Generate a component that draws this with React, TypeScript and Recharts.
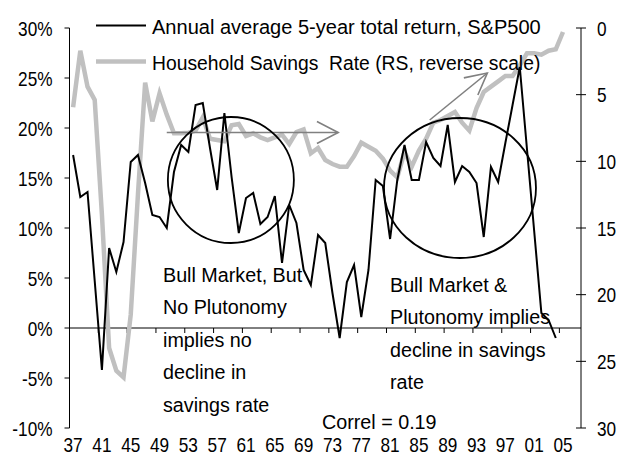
import { LineChart, Line, XAxis, YAxis, ReferenceLine, ReferenceDot } from 'recharts';

// 年次データ (1937-2005)
const years = [
  1937, 1938, 1939, 1940, 1941, 1942, 1943, 1944, 1945, 1946,
  1947, 1948, 1949, 1950, 1951, 1952, 1953, 1954, 1955, 1956,
  1957, 1958, 1959, 1960, 1961, 1962, 1963, 1964, 1965, 1966,
  1967, 1968, 1969, 1970, 1971, 1972, 1973, 1974, 1975, 1976,
  1977, 1978, 1979, 1980, 1981, 1982, 1983, 1984, 1985, 1986,
  1987, 1988, 1989, 1990, 1991, 1992, 1993, 1994, 1995, 1996,
  1997, 1998, 1999, 2000, 2001, 2002, 2003, 2004, 2005,
];

// Annual average 5-year total return, S&P500 (%)
const sp500Return = [
  17.3, 13.1, 13.6, 4.7, -4.2, 8.0, 5.6, 8.6, 16.6, 17.3,
  14.5, 11.3, 11.1, 10.0, 15.6, 18.3, 17.6, 22.3, 22.5, 18.0,
  13.8, 21.5, 15.1, 9.5, 13.0, 13.5, 10.4, 11.1, 13.2, 6.5,
  12.3, 10.5, 5.8, 4.3, 9.3, 8.5, 3.5, -1.0, 4.6, 6.3,
  1.1, 5.8, 14.8, 14.2, 8.9, 14.8, 18.3, 14.8, 14.8, 18.6,
  17.0, 16.2, 20.3, 14.6, 16.2, 15.6, 14.5, 9.1, 16.1, 14.6,
  18.5, 22.3, 26.1, 17.9, 9.7, 1.5, 0.8, -1.0, null,
];

// Household Savings Rate (右軸, 反転)
const savingsRate = [
  5.95, 1.7, 4.4, 5.4, 14, 24.0, 25.7, 26.2, 21.5, 12.5,
  4.1, 7.0, 4.9, 6.5, 7.9, 7.9, 7.85, 7.7, 6.7, 8.3,
  8.4, 8.5, 7.3, 7.2, 8.1, 7.9, 8.2, 8.4, 8.2, 8.0,
  8.7, 7.8, 7.6, 9.4, 9.0, 9.9, 10.2, 10.4, 10.4, 9.6,
  8.6, 8.9, 9.2, 9.8, 10.7, 11.2, 9.3, 10.4, 9.2, 8.3,
  7.1, 6.9, 6.6, 6.3, 7.1, 7.7, 6.0, 4.8, 4.4, 4.0,
  3.6, 3.6, 2.8, 1.9, 1.9, 2.0, 1.7, 1.6, 0.3,
];

const xTickYears = [1937, 1941, 1945, 1949, 1953, 1957, 1961, 1965, 1969, 1973, 1977, 1981, 1985, 1989, 1993, 1997, 2001, 2005];
// 0%ライン上の目盛り (カテゴリ境界)
const zeroLineTicks = [1940.5, 1944.5, 1948.5, 1952.5, 1956.5, 1960.5, 1964.5, 1968.5, 1972.5, 1976.5, 1980.5, 1984.5, 1988.5, 1992.5, 1996.5, 2000.5, 2004.5];
const leftTicks = [-10, -5, 0, 5, 10, 15, 20, 25, 30];
const rightTicks = [0, 5, 10, 15, 20, 25, 30];

// 注釈 (円と矢印)
const circleNotes = [
  { year: 1958.9, value: 14.8, rx: 63, ry: 63 },
  { year: 1990.7, value: 14.0, rx: 76, ry: 70 },
];
const arrowNotes = [
  { from: { year: 1950.0, value: 19.55 }, to: { year: 1973.8, value: 19.55 } },
  { from: { year: 1986.5, value: 20.8 }, to: { year: 1994.5, value: 25.5 } },
];

const data = years.map((year, i) => ({ year, sp500: sp500Return[i], savings: savingsRate[i] }));

const FONT = "'Liberation Sans', Arial, sans-serif";
const AXIS_SCALE = 0.82;
const TEXT_SCALE = 0.94;
const RIGHT_TICK_MARGIN = 16;

// 横方向に詰めたテキスト (Helvetica Condensed風)
const NarrowText = ({ x, y, sx, anchor = 'start', dy, size = 21, children }: any) => (
  <text
    transform={`translate(${x},${y}) scale(${sx},1)`}
    x={0}
    y={0}
    dy={dy}
    textAnchor={anchor}
    fontFamily={FONT}
    fontSize={size}
    fill="#000"
    style={{ whiteSpace: 'pre' }}
  >
    {children}
  </text>
);

const XTick = (props: any) => {
  const { x, y, payload } = props;
  return <NarrowText x={x} y={y} sx={AXIS_SCALE} anchor="middle" dy="0.72em">{String(payload.value).slice(2)}</NarrowText>;
};

const LeftTick = (props: any) => {
  const { x, y, payload } = props;
  return <NarrowText x={x} y={y} sx={AXIS_SCALE} anchor="end" dy="0.36em">{`${payload.value}%`}</NarrowText>;
};

const RightTick = (props: any) => {
  const { x, y, payload } = props;
  const axisX = x - RIGHT_TICK_MARGIN;
  return (
    <g>
      <line x1={axisX - 5} x2={axisX + 5} y1={y} y2={y} stroke="#000" />
      <NarrowText x={x} y={y} sx={AXIS_SCALE} anchor="start" dy="0.36em">{payload.value}</NarrowText>
    </g>
  );
};

const Ellipse = (rx: number, ry: number) => (props: any) => (
  <ellipse cx={props.cx} cy={props.cy} rx={rx} ry={ry} fill="none" stroke="#000" strokeWidth={1.8} />
);

const Arrow = (props: any) => {
  const { x1, y1, x2, y2 } = props;
  const ang = Math.atan2(y1 - y2, x1 - x2);
  const len = 24;
  const spread = 0.48;
  const p1 = [x2 + len * Math.cos(ang - spread), y2 + len * Math.sin(ang - spread)];
  const p2 = [x2 + len * Math.cos(ang + spread), y2 + len * Math.sin(ang + spread)];
  return (
    <g stroke="#808080" strokeWidth={1.6} fill="none">
      <line x1={x1} y1={y1} x2={x2} y2={y2} />
      <polyline points={`${p1[0]},${p1[1]} ${x2},${y2} ${p2[0]},${p2[1]}`} />
    </g>
  );
};

export default function App() {
  return (
    <div style={{ position: 'absolute', left: 0, top: 0, width: 621, height: 461, background: '#fff' }}>
      <LineChart width={621} height={461} data={data} margin={{ top: 28, right: 0, bottom: 0, left: 7.5 }}>
        <XAxis
          dataKey="year"
          type="number"
          domain={[1936.5, 2007.5]}
          ticks={xTickYears}
          axisLine={false}
          tickLine={false}
          tickSize={0}
          tickMargin={9}
          height={33}
          tick={<XTick />}
          interval={0}
        />
        <YAxis
          yAxisId="left"
          domain={[-10, 30]}
          ticks={leftTicks}
          width={62}
          tickSize={5}
          tickMargin={12}
          axisLine={{ stroke: '#000' }}
          tickLine={{ stroke: '#000' }}
          tick={<LeftTick />}
          interval={0}
        />
        <YAxis
          yAxisId="right"
          orientation="right"
          reversed
          domain={[0, 30]}
          ticks={rightTicks}
          width={40}
          tickSize={0}
          tickMargin={RIGHT_TICK_MARGIN}
          axisLine={{ stroke: '#000' }}
          tickLine={false}
          tick={<RightTick />}
          interval={0}
        />
        <ReferenceLine yAxisId="left" y={0} stroke="#000" strokeWidth={1} />
        {zeroLineTicks.map((b) => (
          <ReferenceLine
            key={b}
            yAxisId="left"
            segment={[{ x: b, y: 0 }, { x: b, y: -0.5 }]}
            stroke="#000"
            strokeWidth={1}
          />
        ))}
        <Line
          yAxisId="right"
          type="linear"
          dataKey="savings"
          stroke="#c0c0c0"
          strokeWidth={4.5}
          dot={false}
          isAnimationActive={false}
        />
        <Line
          yAxisId="left"
          type="linear"
          dataKey="sp500"
          stroke="#000"
          strokeWidth={2}
          dot={false}
          isAnimationActive={false}
        />
        {circleNotes.map((c, i) => (
          <ReferenceDot
            key={i}
            yAxisId="left"
            x={c.year}
            y={c.value}
            r={c.rx}
            shape={Ellipse(c.rx, c.ry)}
          />
        ))}
        {arrowNotes.map((a, i) => (
          <ReferenceLine
            key={i}
            yAxisId="left"
            segment={[{ x: a.from.year, y: a.from.value }, { x: a.to.year, y: a.to.value }]}
            shape={<Arrow />}
          />
        ))}
      </LineChart>

      {/* 凡例と注釈テキスト */}
      <svg width={621} height={461} style={{ position: 'absolute', left: 0, top: 0, pointerEvents: 'none' }}>
        <line x1={96} x2={146} y1={25.5} y2={25.5} stroke="#000" strokeWidth={2} />
        <NarrowText x={152} y={33.5} sx={0.955}>Annual average 5-year total return, S&amp;P500</NarrowText>
        <line x1={96} x2={146} y1={61.5} y2={61.5} stroke="#c0c0c0" strokeWidth={4.5} />
        <NarrowText x={152} y={70} sx={0.92}>{'Household Savings  Rate (RS, reverse scale)'}</NarrowText>

        <NarrowText x={163} y={282} sx={TEXT_SCALE}>Bull Market, But</NarrowText>
        <NarrowText x={163} y={314} sx={TEXT_SCALE}>No Plutonomy</NarrowText>
        <NarrowText x={163} y={346.5} sx={TEXT_SCALE}>implies no</NarrowText>
        <NarrowText x={163} y={379} sx={TEXT_SCALE}>decline in</NarrowText>
        <NarrowText x={163} y={411.5} sx={TEXT_SCALE}>savings rate</NarrowText>

        <NarrowText x={390} y={292} sx={TEXT_SCALE}>Bull Market &amp;</NarrowText>
        <NarrowText x={390} y={324} sx={TEXT_SCALE}>Plutonomy implies</NarrowText>
        <NarrowText x={390} y={356.5} sx={TEXT_SCALE}>decline in savings</NarrowText>
        <NarrowText x={390} y={389} sx={TEXT_SCALE}>rate</NarrowText>

        <NarrowText x={322} y={429} sx={TEXT_SCALE}>Correl = 0.19</NarrowText>
      </svg>
    </div>
  );
}
